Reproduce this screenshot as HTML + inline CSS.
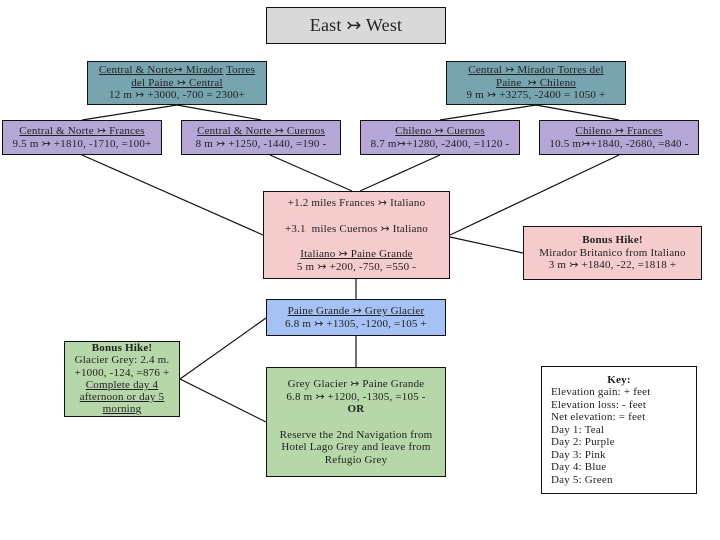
<!DOCTYPE html>
<html><head><style>
body{margin:0;width:720px;height:540px;background:#fff;position:relative;overflow:hidden;font-family:"Liberation Serif",serif;color:#222}
.b{position:absolute;box-sizing:border-box;border:1.5px solid #111;text-align:center;font-size:11px;letter-spacing:0.2px;line-height:12.5px;display:flex;flex-direction:column;justify-content:center;align-items:center}
u{text-decoration:underline}
svg{position:absolute;left:0;top:0}
</style></head><body>
<svg width="720" height="540"><g stroke="#111" stroke-width="1.2">
<line x1="177" y1="105" x2="82" y2="120"/><line x1="177" y1="105" x2="261" y2="120"/>
<line x1="536" y1="105" x2="440" y2="120"/><line x1="536" y1="105" x2="619" y2="120"/>
<line x1="82" y1="155" x2="263" y2="235"/><line x1="270" y1="155" x2="352" y2="191"/>
<line x1="440" y1="155" x2="360" y2="191"/><line x1="619" y1="155" x2="450" y2="235"/>
<line x1="450" y1="237" x2="523" y2="253"/>
<line x1="356" y1="279" x2="356" y2="299"/><line x1="356" y1="336" x2="356" y2="367"/>
<line x1="180" y1="379" x2="266" y2="318"/><line x1="180" y1="379" x2="266" y2="422"/>
</g></svg>
<div class="b" style="left:266px;top:7px;width:180px;height:37px;background:#d9d9d9;font-size:18px">East ↣ West</div>
<div class="b" style="left:87px;top:61px;width:180px;height:44px;background:#76a5af;padding:0 8px"><div><u>Central &amp; Norte↣ Mirador</u> <u>Torres del Paine ↣ Central</u></div><div>12 m ↣ +3000, -700 = 2300+</div></div>
<div class="b" style="left:446px;top:61px;width:180px;height:44px;background:#76a5af;padding:0 12px"><div><u>Central ↣ Mirador Torres del Paine&nbsp; ↣ Chileno</u></div><div>9 m ↣ +3275, -2400 = 1050 +</div></div>
<div class="b" style="left:2px;top:120px;width:160px;height:35px;background:#b4a7d6"><u>Central &amp; Norte ↣ Frances</u><div>9.5 m ↣ +1810, -1710, =100+</div></div>
<div class="b" style="left:181px;top:120px;width:160px;height:35px;background:#b4a7d6"><u>Central &amp; Norte ↣ Cuernos</u><div>8 m ↣ +1250, -1440, =190 -</div></div>
<div class="b" style="left:360px;top:120px;width:160px;height:35px;background:#b4a7d6"><u>Chileno ↣ Cuernos</u><div>8.7 m↣+1280, -2400, =1120 -</div></div>
<div class="b" style="left:539px;top:120px;width:160px;height:35px;background:#b4a7d6"><u>Chileno ↣ Frances</u><div>10.5 m↣+1840, -2680, =840 -</div></div>
<div class="b" style="left:263px;top:191px;width:187px;height:88px;background:#f4cccc"><div>+1.2 miles Frances ↣ Italiano</div><div style="margin-top:13px">+3.1&nbsp; miles Cuernos ↣ Italiano</div><div style="margin-top:13px"><u>Italiano ↣ Paine Grande</u></div><div>5 m ↣ +200, -750, =550 -</div></div>
<div class="b" style="left:523px;top:226px;width:179px;height:54px;background:#f4cccc"><b>Bonus Hike!</b><div>Mirador Britanico from Italiano</div><div>3 m ↣ +1840, -22, =1818 +</div></div>
<div class="b" style="left:266px;top:299px;width:180px;height:37px;background:#a4c2f4"><u>Paine Grande ↣ Grey Glacier</u><div>6.8 m ↣ +1305, -1200, =105 +</div></div>
<div class="b" style="left:64px;top:341px;width:116px;height:76px;background:#b6d7a8;justify-content:flex-start;line-height:12.3px;white-space:nowrap"><b>Bonus Hike!</b><div>Glacier Grey: 2.4 m.</div><div>+1000, -124, =876 +</div><u>Complete day 4</u><u>afternoon or day 5</u><u>morning</u></div>
<div class="b" style="left:266px;top:367px;width:180px;height:110px;background:#b6d7a8;padding:0 10px"><div>Grey Glacier ↣ Paine Grande</div><div>6.8 m ↣ +1200, -1305, =105 -</div><b>OR</b><div style="margin-top:13px">Reserve the 2nd Navigation from Hotel Lago Grey and leave from Refugio Grey</div></div>
<div class="b" style="left:541px;top:366px;width:156px;height:128px;background:#fff;align-items:flex-start;text-align:left;padding-left:9px"><div style="align-self:center;margin-left:-9px"><b>Key:</b></div><div>Elevation gain: + feet</div><div>Elevation loss: - feet</div><div>Net elevation: = feet</div><div>Day 1: Teal</div><div>Day 2: Purple</div><div>Day 3: Pink</div><div>Day 4: Blue</div><div>Day 5: Green</div></div>
</body></html>
